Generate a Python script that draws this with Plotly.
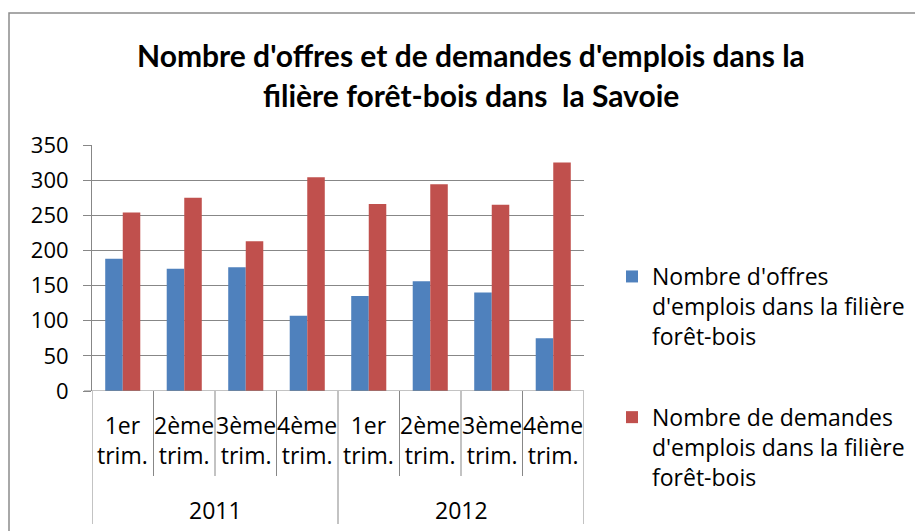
import plotly.graph_objects as go

# ---- data ----
years = ["2011", "2012"]
quarters = ["1er<br>trim.", "2ème<br>trim.", "3ème<br>trim.", "4ème<br>trim."]
offres = [188, 174, 176, 107, 135, 156, 140, 75]
demandes = [254, 275, 213, 304, 266, 294, 265, 325]
series_names = [
    "Nombre d'offres<br>d'emplois dans la filière<br>forêt-bois",
    "Nombre de demandes<br>d'emplois dans la filière<br>forêt-bois",
]
title_lines = ["Nombre d'offres et de demandes d'emplois dans la",
               "filière forêt-bois dans  la Savoie"]
y_ticks = [0, 50, 100, 150, 200, 250, 300, 350]

# ---- geometry ----
W, H = 915, 531
L, R, T, B = 92, 584, 145, 391  # plot area pixel box
FONT = "Open Sans"
TFONT = "Lato"

labels = [q for _ in years for q in quarters]
n = len(labels)
xs = list(range(n))


def py(p):  # pixel y -> paper y
    return (B - p) / (B - T)


def px(p):  # pixel x -> paper x
    return (p - L) / (R - L)


blue = "#4F81BD"
red = "#C0504D"

fig = go.Figure()
fig.add_bar(x=xs, y=offres, name=series_names[0], marker=dict(color=blue, line=dict(width=0)),
            legendgroup="a")
fig.add_bar(x=xs, y=demandes, name=series_names[1], marker=dict(color=red, line=dict(width=0)),
            legendgroup="b")

shapes = []
annotations = []
gridc = "#878787"
# quarter dividers
for i in range(n + 1):
    xb = i - 0.5
    is_year = (i % len(quarters) == 0)
    bottom = 524 if is_year else 476
    shapes.append(dict(type="line", xref="x", yref="paper", x0=xb, x1=xb,
                       y0=0, y1=py(bottom), line=dict(color=gridc, width=1)))
# quarter labels
for i, lab in enumerate(labels):
    annotations.append(dict(x=i, xref="x", y=py(440), yref="paper", text=lab,
                            showarrow=False, yanchor="middle", xanchor="center",
                            font=dict(family=FONT, size=23, color="#000000")))
# year labels
for j, yr in enumerate(years):
    c = j * len(quarters) + (len(quarters) - 1) / 2
    annotations.append(dict(x=c, xref="x", y=py(510), yref="paper", text=yr,
                            showarrow=False, yanchor="middle", xanchor="center",
                            font=dict(family=FONT, size=23, color="#000000")))
# title (two lines)
for k, (line, ypx) in enumerate(zip(title_lines, [55, 95])):
    annotations.append(dict(x=px(471), xref="paper", y=py(ypx), yref="paper", text=line,
                            showarrow=False, yanchor="middle", xanchor="center",
                            font=dict(family=TFONT, size=30, color="#000000", weight="bold")))
# chart border
shapes.append(dict(type="rect", xref="paper", yref="paper", x0=px(9), x1=px(W + 20),
                   y0=py(H + 20), y1=py(13), line=dict(color="#8c8c8c", width=1.5),
                   fillcolor="rgba(0,0,0,0)", layer="below"))

fig.update_layout(
    width=W, height=H,
    margin=dict(l=L, r=W - R, t=T, b=H - B, pad=0, autoexpand=False),
    paper_bgcolor="white", plot_bgcolor="white",
    barmode="group", bargap=0.43, bargroupgap=0,
    showlegend=True,
    legend=dict(x=px(612), y=py(255), xref="paper", yref="paper", xanchor="left", yanchor="top",
                font=dict(family=FONT, size=23, color="#000000"),
                traceorder="grouped", tracegroupgap=48, valign="top",
                itemwidth=30, bgcolor="rgba(0,0,0,0)"),
    font=dict(family=FONT, size=20, color="#000000"),
    xaxis=dict(range=[-0.5, n - 0.5], showticklabels=False, showgrid=False, zeroline=False,
               showline=False, ticks="", fixedrange=True),
    yaxis=dict(range=[0, 350], tickvals=y_ticks, showgrid=True, gridcolor=gridc, gridwidth=1,
               zeroline=False, showline=True, linecolor=gridc, linewidth=1,
               ticks="outside", ticklen=8, tickcolor=gridc,
               tickfont=dict(family=FONT, size=22, color="#000000"), ticklabelstandoff=10),
    shapes=shapes,
    annotations=annotations,
)
# x baseline (axis line incl. left tick)
fig.add_shape(type="line", xref="paper", yref="y", x0=px(84), x1=1, y0=0, y1=0,
              line=dict(color=gridc, width=1))

fig.write_html("out.html", config={"displayModeBar": False},
               post_script="document.body.style.margin='0';document.body.style.overflow='hidden';")
